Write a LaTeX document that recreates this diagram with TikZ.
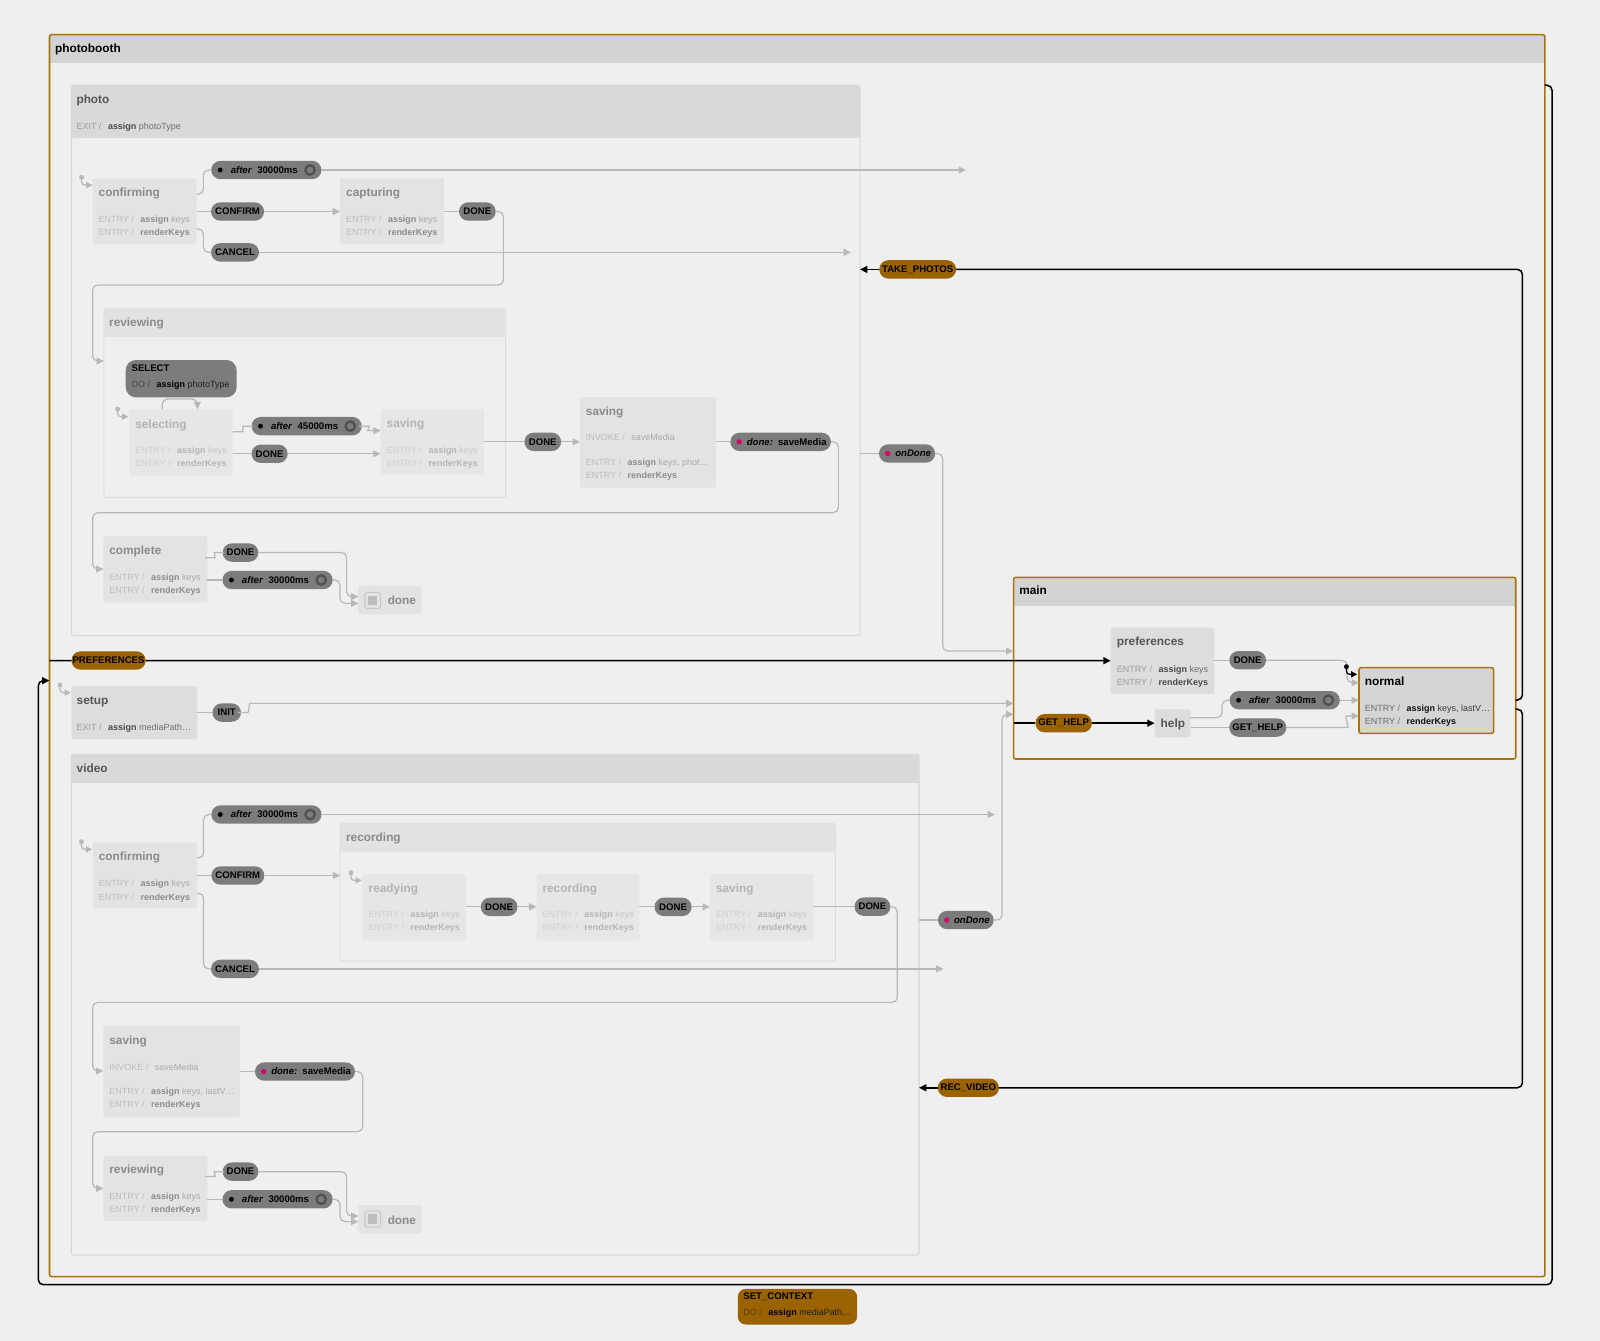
\documentclass[tikz,border=0pt]{standalone}
\usepackage{fontspec}
\setmainfont{Liberation Sans}
\usetikzlibrary{arrows.meta,fit,calc}
\definecolor{bgc}{HTML}{EFEFEF}
\definecolor{hdrc}{HTML}{D3D3D3}
\definecolor{cmphdr}{HTML}{D9D9D9}
\definecolor{cmpbd}{HTML}{D6D6D6}
\definecolor{subhdr}{HTML}{E2E2E2}
\definecolor{subbd}{HTML}{DDDDDD}
\definecolor{leafc}{HTML}{E3E3E3}
\definecolor{fleafc}{HTML}{E6E6E6}
\definecolor{pleafc}{HTML}{DDDDDD}
\definecolor{actc}{HTML}{D5D5D5}
\definecolor{orb}{HTML}{A8720C}
\definecolor{evo}{HTML}{9A6300}
\definecolor{pillc}{HTML}{7C7C7C}
\definecolor{edgec}{HTML}{B8B8B8}
\definecolor{ringc}{HTML}{505050}
\definecolor{magc}{HTML}{D4006A}
\definecolor{iN}{HTML}{8A8A8A}\definecolor{iE}{HTML}{BDBDBD}\definecolor{iA}{HTML}{8C8C8C}\definecolor{iK}{HTML}{A9A9A9}
\definecolor{fN}{HTML}{B3B3B3}\definecolor{fE}{HTML}{D0D0D0}\definecolor{fA}{HTML}{B5B5B5}\definecolor{fK}{HTML}{C6C6C6}
\definecolor{pN}{HTML}{555555}\definecolor{pE}{HTML}{9C9C9C}\definecolor{pA}{HTML}{4A4A4A}\definecolor{pK}{HTML}{6E6E6E}
\definecolor{aN}{HTML}{000000}\definecolor{aE}{HTML}{6B6B6B}\definecolor{aA}{HTML}{111111}\definecolor{aK}{HTML}{3A3A3A}
\definecolor{sE}{HTML}{474747}\definecolor{sA}{HTML}{000000}\definecolor{sK}{HTML}{1E1E1E}
\definecolor{oE}{HTML}{5E3D00}\definecolor{oA}{HTML}{000000}\definecolor{oK}{HTML}{1E1E1E}
\definecolor{C6C6C6}{HTML}{C6C6C6}
\definecolor{BDBDBD}{HTML}{BDBDBD}
\newcommand\fname{\fontsize{5.8pt}{7pt}\selectfont\bfseries}
\newcommand\fsmall{\fontsize{4.4pt}{5pt}\selectfont}
\newcommand\fpill{\fontsize{4.7pt}{5pt}\selectfont\bfseries}
\newcounter{tc}
\newcommand\nm[4]{\stepcounter{tc}\node[txt] (t\arabic{tc}) at (#1,#2) {\fname\color{#3}#4};}
\newcommand\act[6]{\stepcounter{tc}\node[txt] (t\arabic{tc}) at (#2,#3) {\fsmall\textcolor{#1E}{#4}\hspace{3.2pt}\textcolor{#1A}{\bfseries #5}\textcolor{#1K}{#6}};}
\newcommand\ent[4]{\act{#1}{#2}{#3}{ENTRY /}{assign}{\ keys}\act{#1}{#2}{#4}{ENTRY /}{renderKeys}{}}
\newcommand\leafbox[6]{\node[box,#6,fit={(#2,#3)(#4,#5)}] (#1) {};}
\newcommand\afterpill[4]{%
 \node[pill,minimum width=54pt] (#1) at (#2,#3) {};
 \fill[black] ([xshift=4.4pt]#1.west) circle (1.2pt);
 \draw[ringc,line width=1.1pt] ([xshift=-5.6pt]#1.east) circle (2.3pt);
 \node[inner sep=0pt,font=\fpill] (#1t) at ([xshift=-1pt]#1.center) {\textit{after}\hspace{2.6pt}#4};}
\newcommand\dotpill[5]{%
 \node[pill,minimum width=#4] (#1) at (#2,#3) {};
 \fill[magc] ([xshift=4.3pt]#1.west) circle (1.3pt);
 \node[inner sep=0pt,font=\fpill] (#1t) at ([xshift=3pt]#1.center) {#5};}
\newcommand\initm[3]{%
 \fill[#3] (#1,#2) circle (1.2pt);
 \draw[#3,line width=0.6pt,rounded corners=1.5pt,-{Triangle[length=3pt,width=3pt]}] (#1,#2) -- ++(0,7.5) -- ++(10.5,0);}
\newcommand\doneicon[2]{%
 \draw[fill=leafc,draw=C6C6C6,line width=0.5pt,rounded corners=0.8pt] (#1,#2) rectangle ++(15.3,15.7);
 \fill[BDBDBD] (#1+3.2,#2+3.2) rectangle ++(8.9,9.3);}
\begin{document}
\begin{tikzpicture}[x=0.5pt,y=-0.5pt,
  box/.style={inner sep=0pt,outer sep=0pt,rounded corners=1pt},
  pill/.style={rounded corners=4.5pt,fill=pillc,minimum height=9pt,inner sep=0pt,outer sep=0pt,font=\fpill,text=black},
  opill/.style={pill,fill=evo},
  edge/.style={draw=edgec,line width=0.6pt,rounded corners=2.5pt},
  arr/.style={edge,-{Triangle[length=3.6pt,width=3.4pt]}},
  bedge/.style={draw=black,line width=0.75pt,rounded corners=2.5pt},
  barr/.style={bedge,-{Triangle[length=3.6pt,width=3.4pt]}},
  txt/.style={anchor=base west,inner sep=0pt,outer sep=0pt}]
\useasboundingbox (0,0) rectangle (1568,1314);
\fill[bgc] (0,0) rectangle (1568,1314);

% ---------- photobooth ----------
\node[box,fill=bgc,fit={(48.5,34)(1514,1251)}] (pb) {};
\fill[hdrc] (pb.north west) rectangle (1514,61.5);
\draw[orb,line width=0.75pt,rounded corners=1pt] (pb.north west) rectangle (pb.south east);
\nm{54}{51.6}{aN}{photobooth}

% ---------- photo ----------
\node[box,fill=bgc,draw=cmpbd,line width=0.5pt,fit={(70.2,83.3)(842.8,623)}] (photo) {};
\fill[cmphdr] (photo.north west) rectangle (842.8,135);
\nm{75}{101.3}{pN}{photo}
\act{p}{75}{126.7}{EXIT /}{assign}{\ photoType}

\initm{80}{173.8}{edgec}
\leafbox{conf1}{90.8}{174.8}{192.7}{239.4}{fill=leafc}
\nm{96.7}{192.7}{iN}{confirming}
\ent{i}{96.7}{218.2}{231}
\leafbox{capt}{333.2}{174.8}{435.1}{239.4}{fill=leafc}
\nm{339.3}{192.7}{iN}{capturing}
\ent{i}{339.3}{218.2}{231}

\afterpill{pa1}{261}{166.6}{30000ms}
\node[pill,minimum width=26pt] (pc1) at (232.8,207.3) {CONFIRM};
\node[pill,minimum width=23.5pt] (pcan1) at (230.3,247.3) {CANCEL};
\node[pill,minimum width=18pt] (pd1) at (467.8,207.3) {DONE};
\coordinate (e1) at (946.6,166.6);
\coordinate (e2) at (834,247.3);
\draw[edge] (conf1.east |- 0,190.4) -- (199.3,190.4) -- (199.3,166.6) -- (pa1.west);
\draw[arr] (pa1.east) -- (e1);
\draw[edge] (conf1.east |- pc1.west) -- (pc1.west);
\draw[arr] (pc1.east) -- (capt.west |- pc1.east);
\draw[edge] (conf1.east |- 0,224.4) -- (199.3,224.4) -- (199.3,247.3) -- (pcan1.west);
\draw[arr] (pcan1.east) -- (e2);
\draw[edge] (capt.east |- pd1.west) -- (pd1.west);

% reviewing
\node[box,fill=bgc,draw=subbd,line width=0.5pt,fit={(101.9,302.8)(495.5,487.4)}] (rev) {};
\fill[subhdr] (rev.north west) rectangle (495.5,330.6);
\nm{107}{320}{iN}{reviewing}
\draw[arr] (pd1.east) -- (493.3,207.3) -- (493.3,279.3) -- (90.8,279.3) -- (90.8,353.8) -- (rev.west |- 0,353.8);

\node[box,fill=pillc,rounded corners=5pt,fit={(123.2,352.8)(231.9,389.4)}] (selp) {};
\stepcounter{tc}\node[txt] (t\arabic{tc}) at (129,364.2) {\fpill SELECT};
\act{s}{129}{379.9}{DO /}{assign}{\ photoType}

\initm{115.3}{400.8}{edgec}
\leafbox{selg}{126.7}{401}{228}{466}{fill=fleafc}
\nm{132.6}{419.8}{fN}{selecting}
\ent{f}{132.6}{444.9}{457.3}
\leafbox{svi}{373}{401}{474.3}{465.5}{fill=fleafc}
\nm{379}{419.3}{fN}{saving}
\ent{f}{379}{444.5}{457.2}
\draw[arr] (selg.north -| 159,0) -- (159,391) -- (193.4,391) -- (selg.north -| 193.4,0);

\afterpill{pa2}{300.5}{417.6}{45000ms}
\node[pill,minimum width=17.7pt] (pd2) at (264.2,444.7) {DONE};
\draw[edge] (selg.east |- 0,423) -- (233,423) to[out=0,in=180] (243,417.6) -- (pa2.west);
\draw[arr] (pa2.east) -- (357,417.6) to[out=0,in=180] (365,422) -- (svi.west |- 0,422);
\draw[edge] (selg.east |- pd2.west) -- (pd2.west);
\draw[arr] (pd2.east) -- (svi.west |- pd2.east);

\leafbox{svo}{568.4}{389}{701.7}{477.9}{fill=leafc}
\nm{574.2}{406.7}{iN}{saving}
\act{i}{574.2}{431.9}{INVOKE /}{}{saveMedia}
\act{i}{574.2}{456.4}{ENTRY /}{assign}{\ keys, phot\dots}
\act{i}{574.2}{469.1}{ENTRY /}{renderKeys}{}
\node[pill,minimum width=18pt] (pd3) at (531.9,433) {DONE};
\draw[edge] (svi.east |- pd3.west) -- (pd3.west);
\draw[arr] (pd3.east) -- (svo.west |- pd3.east);

\dotpill{pdm1}{765}{433}{49.3pt}{\textit{done:}\hspace{2.5pt}saveMedia}
\draw[edge] (svo.east |- pdm1.west) -- (pdm1.west);

\leafbox{comp}{101.3}{525.3}{203.2}{590.3}{fill=leafc}
\nm{107.2}{543.6}{iN}{complete}
\ent{i}{107.2}{568.4}{581.5}
\draw[arr] (pdm1.east) -- (821.6,433) -- (821.6,502.4) -- (90.8,502.4) -- (90.8,557.6) -- (comp.west |- 0,557.6);

\node[pill,minimum width=17.5pt] (pd4) at (235.7,541.5) {DONE};
\afterpill{pa3}{272}{568.4}{30000ms}
\leafbox{done1}{351.2}{574}{413.2}{602}{fill=leafc}
\doneicon{357.7}{580.5}
\nm{380}{592.4}{iN}{done}
\draw[edge] (comp.east |- 0,546.5) -- (206,546.5) to[out=0,in=180] (215,541.5) -- (pd4.west);
\draw[arr] (pd4.east) -- (339.7,541.5) -- (339.7,584.7) -- (done1.west |- 0,584.7);
\draw[edge] (comp.east |- pa3.west) -- (pa3.west);
\draw[arr] (pa3.east) -- (333.2,568.4) -- (333.2,591.3) -- (done1.west |- 0,591.3);

% ---------- setup ----------
\initm{58.8}{671.3}{edgec}
\leafbox{setup}{70}{672.3}{193.5}{724.2}{fill=pleafc}
\nm{75.2}{690}{pN}{setup}
\act{p}{75.2}{715.4}{EXIT /}{assign}{\ mediaPath\dots}
\node[pill,minimum width=14pt] (pinit) at (222.2,698.3) {INIT};

% ---------- video ----------
\node[box,fill=bgc,draw=cmpbd,line width=0.5pt,fit={(70,739.2)(900.6,1229.9)}] (video) {};
\fill[cmphdr] (video.north west) rectangle (900.6,767);
\nm{75.2}{757.2}{pN}{video}

\initm{79.8}{824.8}{edgec}
\leafbox{conf2}{91}{825.5}{192.9}{890}{fill=leafc}
\nm{96.9}{843.5}{iN}{confirming}
\ent{i}{96.9}{868.9}{882}
\afterpill{pa4}{261.1}{798.2}{30000ms}
\node[pill,minimum width=26pt] (pc2) at (233.1,858) {CONFIRM};
\node[pill,minimum width=23.5pt] (pcan2) at (230.3,949.5) {CANCEL};
\coordinate (e3) at (975,798.2);
\coordinate (e4) at (924.6,949.5);

\node[box,fill=bgc,draw=subbd,line width=0.5pt,fit={(333.4,806.9)(818.6,941.8)}] (recc) {};
\fill[subhdr] (recc.north west) rectangle (818.6,834.6);
\nm{339.2}{824.8}{iN}{recording}

\draw[edge] (conf2.east |- 0,840.7) -- (199.5,840.7) -- (199.5,798.2) -- (pa4.west);
\draw[arr] (pa4.east) -- (e3);
\draw[edge] (conf2.east |- pc2.west) -- (pc2.west);
\draw[arr] (pc2.east) -- (recc.west |- pc2.east);
\draw[edge] (conf2.east |- 0,875.4) -- (199.5,875.4) -- (199.5,949.5) -- (pcan2.west);
\draw[arr] (pcan2.east) -- (e4);

\initm{344}{855.2}{edgec}
\leafbox{rdy}{355.4}{856.5}{456.6}{921.8}{fill=fleafc}
\nm{361.3}{874.5}{fN}{readying}
\ent{f}{361.3}{899.3}{912.1}
\leafbox{rec}{525.8}{856.5}{626.6}{921.8}{fill=fleafc}
\nm{531.7}{874.5}{fN}{recording}
\ent{f}{531.7}{899.3}{912.1}
\leafbox{svl}{695.8}{856.5}{797}{921.8}{fill=fleafc}
\nm{701.7}{874.5}{fN}{saving}
\ent{f}{701.7}{899.3}{912.1}
\node[pill,minimum width=18pt] (pd5) at (489.1,888.7) {DONE};
\node[pill,minimum width=18.2pt] (pd6) at (659.6,888.7) {DONE};
\node[pill,minimum width=17.6pt] (pd7) at (855,888.5) {DONE};
\draw[edge] (rdy.east |- pd5.west) -- (pd5.west);
\draw[arr] (pd5.east) -- (rec.west |- pd5.east);
\draw[edge] (rec.east |- pd6.west) -- (pd6.west);
\draw[arr] (pd6.east) -- (svl.west |- pd6.east);
\draw[edge] (svl.east |- pd7.west) -- (pd7.west);

\leafbox{sv2}{101.3}{1005.5}{235.2}{1095}{fill=leafc}
\nm{107.2}{1023.4}{iN}{saving}
\act{i}{107.2}{1048.6}{INVOKE /}{}{saveMedia}
\act{i}{107.2}{1072.5}{ENTRY /}{assign}{\ keys, lastV\dots}
\act{i}{107.2}{1085.2}{ENTRY /}{renderKeys}{}
\draw[arr] (pd7.east) -- (879.3,888.5) -- (879.3,982.3) -- (90.8,982.3) -- (90.8,1049.6) -- (sv2.west |- 0,1049.6);

\dotpill{pdm2}{298.9}{1050.1}{49pt}{\textit{done:}\hspace{2.5pt}saveMedia}
\draw[edge] (sv2.east |- pdm2.west) -- (pdm2.west);

\leafbox{rv2}{101.3}{1132.5}{203.2}{1196.6}{fill=leafc}
\nm{107.2}{1149.9}{iN}{reviewing}
\ent{i}{107.2}{1175.3}{1188.1}
\draw[arr] (pdm2.east) -- (355.4,1050.1) -- (355.4,1109) -- (90.8,1109) -- (90.8,1164.6) -- (rv2.west |- 0,1164.6);

\node[pill,minimum width=17.5pt] (pd8) at (235.7,1148.2) {DONE};
\afterpill{pa5}{272}{1175.3}{30000ms}
\leafbox{done2}{351.2}{1180.9}{413.2}{1208.7}{fill=leafc}
\doneicon{357.7}{1186.8}
\nm{380}{1199.7}{iN}{done}
\draw[edge] (rv2.east |- 0,1153) -- (206,1153) to[out=0,in=180] (215,1148.2) -- (pd8.west);
\draw[arr] (pd8.east) -- (339.7,1148.2) -- (339.7,1191.7) -- (done2.west |- 0,1191.7);
\draw[edge] (rv2.east |- pa5.west) -- (pa5.west);
\draw[arr] (pa5.east) -- (333.2,1175.3) -- (333.2,1197.2) -- (done2.west |- 0,1197.2);

% ---------- main ----------
\node[box,fill=bgc,fit={(993.3,565.8)(1485.4,743.8)}] (main) {};
\fill[hdrc] (main.north west) rectangle (1485.4,593.5);
\draw[orb,line width=0.75pt,rounded corners=1pt] (main.north west) rectangle (main.south east);
\nm{998.9}{582.4}{aN}{main}

\leafbox{pref}{1088.5}{615.1}{1190}{680.1}{fill=pleafc}
\nm{1094.5}{632.8}{pN}{preferences}
\ent{p}{1094.5}{658.6}{671.3}
\leafbox{help}{1131.5}{695.1}{1166.9}{722.6}{fill=pleafc}
\nm{1137.5}{713.1}{pN}{help}
\node[box,fill=actc,draw=orb,line width=0.75pt,fit={(1331.8,654.3)(1463.7,718.7)}] (normal) {};
\nm{1337.6}{671.3}{aN}{normal}
\act{a}{1337.6}{696.8}{ENTRY /}{assign}{\ keys, lastV\dots}
\act{a}{1337.6}{709.9}{ENTRY /}{renderKeys}{}

\node[pill,minimum width=18pt] (pd9) at (1222.7,647) {DONE};
\afterpill{pa6}{1259}{686.2}{30000ms}
\node[pill,minimum width=28pt] (pgh2) at (1232.6,713) {GET\_HELP};
\draw[edge] (pref.east |- pd9.west) -- (pd9.west);
\draw[arr] (pd9.east) -- (1320,647) -- (1320,669) -- (normal.west |- 0,669);
\draw[edge] (help.east |- 0,703.3) -- (1197.6,703.3) -- (1197.6,686.2) -- (pa6.west);
\draw[arr] (pa6.east) -- (normal.west |- pa6.east);
\draw[edge] (help.east |- pgh2.west) -- (pgh2.west);
\draw[arr] (pgh2.east) -- (1316,713) to[out=0,in=180] (1324,701.7) -- (normal.west |- 0,701.7);
\initm{1319.5}{653.3}{black}

\node[opill,minimum width=27.7pt] (pgh) at (1042.4,708.7) {GET\_HELP};
\draw[bedge] (main.west |- pgh.west) -- (pgh.west);
\draw[barr] (pgh.east) -- (help.west |- pgh.east);

% ---------- top level transitions ----------
\draw[edge] (setup.east |- pinit.west) -- (pinit.west);
\draw[arr] (pinit.east) -- (238,698.3) to[out=0,in=180] (250,689.3) -- (main.west |- 0,689.3);

\dotpill{pod1}{888.9}{444.4}{27.5pt}{\textit{onDone}}
\draw[edge] (photo.east |- pod1.west) -- (pod1.west);
\draw[arr] (pod1.east) -- (923.8,444.4) -- (923.8,638) -- (main.west |- 0,638);

\dotpill{pod2}{946.5}{901.6}{27.3pt}{\textit{onDone}}
\draw[edge] (video.east |- pod2.west) -- (pod2.west);
\draw[arr] (pod2.east) -- (982,901.6) -- (982,700) -- (main.west |- 0,700);

\node[opill,minimum width=37.7pt] (ptk) at (899.3,264) {TAKE\_PHOTOS};
\draw[bedge] (main.east |- 0,686) -- (1492,686) -- (1492,264) -- (ptk.east);
\draw[barr] (ptk.west) -- (photo.east |- ptk.west);

\node[opill,minimum width=30pt] (prv) at (949,1066) {REC\_VIDEO};
\draw[bedge] (main.east |- 0,695) -- (1492,695) -- (1492,1066) -- (prv.east);
\draw[barr] (prv.west) -- (video.east |- prv.west);

\node[opill,minimum width=36.4pt] (ppref) at (106.4,647.3) {PREFERENCES};
\draw[bedge] (pb.west |- 0,647.5) -- (ppref.west);
\draw[barr] (ppref.east) -- (pref.west |- 0,647.5);

% SET_CONTEXT self loop
\draw[barr] (pb.east |- 0,83.5) -- (1521,83.5) -- (1521,1259) -- (37.5,1259) -- (37.5,667) -- (pb.west |- 0,667);
\node[box,fill=evo,rounded corners=4pt,fit={(723,1263)(840,1298)}] (setctx) {};
\stepcounter{tc}\node[txt] (t\arabic{tc}) at (728.5,1273) {\fpill SET\_CONTEXT};
\act{o}{728.5}{1288.7}{DO /}{assign}{\ mediaPath\dots}
\end{tikzpicture}
\end{document}
